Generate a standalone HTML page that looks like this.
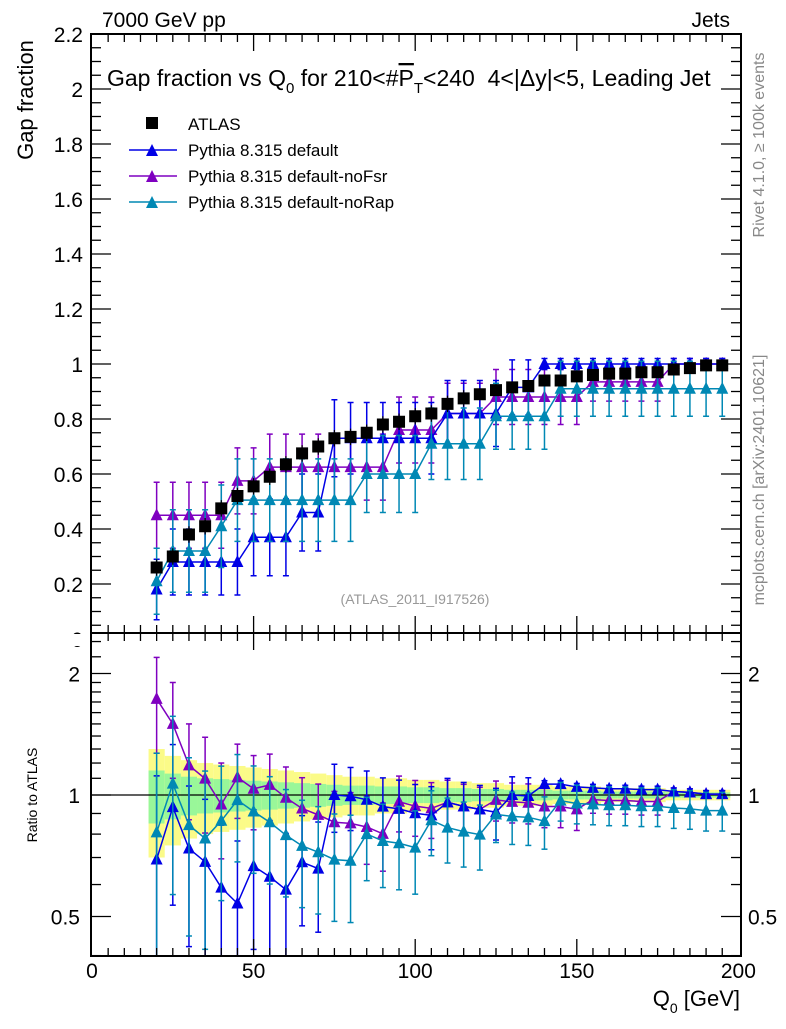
<!DOCTYPE html>
<html><head><meta charset="utf-8"><style>
body{margin:0;background:#fff;}
svg text{font-family:"Liberation Sans",sans-serif;}
</style></head><body>
<svg id="chart" width="786" height="1024" viewBox="0 0 786 1024" xmlns="http://www.w3.org/2000/svg">
<rect width="786" height="1024" fill="#fff"/>
<g id="bands"></g>
<g id="marks"></g>
<g id="axes"></g>
<text x="102" y="27" font-size="21">7000 GeV pp</text>
<text x="730" y="27" font-size="21" text-anchor="end">Jets</text>
<text x="107" y="86" font-size="23" xml:space="preserve">Gap fraction vs Q<tspan font-size="15" dy="7">0</tspan><tspan dy="-7"> for 210&lt;#</tspan><tspan text-decoration="overline">P</tspan><tspan font-size="15" dy="7">T</tspan><tspan dy="-7">&lt;240&#160;&#160;4&lt;|Δy|&lt;5, Leading Jet</tspan></text>
<text transform="translate(33,100) rotate(-90)" font-size="22" text-anchor="middle">Gap fraction</text>
<text transform="translate(37,795) rotate(-90)" font-size="14" text-anchor="middle">Ratio to ATLAS</text>
<text x="740" y="1006" font-size="22" text-anchor="end">Q<tspan font-size="14" dy="7">0</tspan><tspan dy="-7"> [GeV]</tspan></text>
<text transform="translate(764,145) rotate(-90)" font-size="16" fill="#888" text-anchor="middle">Rivet 4.1.0, ≥ 100k events</text>
<text transform="translate(764,480) rotate(-90)" font-size="16" fill="#888" text-anchor="middle">mcplots.cern.ch [arXiv:2401.10621]</text>
<text x="415" y="604" font-size="14" fill="#999" text-anchor="middle">(ATLAS_2011_I917526)</text>
<g>
<rect x="146" y="117" width="12" height="12" fill="#000"/>
<text x="188" y="130" font-size="17">ATLAS</text>
<line x1="129" y1="150" x2="177" y2="150" stroke="#0000e6" stroke-width="1.5"/><polygon points="146,156 158,156 152,144" fill="#0000e6"/>
<text x="188" y="156" font-size="17">Pythia 8.315 default</text>
<line x1="129" y1="176" x2="177" y2="176" stroke="#7f00c0" stroke-width="1.5"/><polygon points="146,182 158,182 152,170" fill="#7f00c0"/>
<text x="188" y="182" font-size="17">Pythia 8.315 default-noFsr</text>
<line x1="129" y1="202" x2="177" y2="202" stroke="#0088b4" stroke-width="1.5"/><polygon points="146,208 158,208 152,196" fill="#0088b4"/>
<text x="188" y="208" font-size="17">Pythia 8.315 default-noRap</text>
</g>
</svg>
<script>
const q0 = [20,25,30,35,40,45,50,55,60,65,70,75,80,85,90,95,100,105,110,115,120,125,130,135,140,145,150,155,160,165,170,175,180,185,190,195];
const atlas = [0.26,0.30,0.38,0.41,0.475,0.52,0.555,0.59,0.635,0.675,0.70,0.73,0.735,0.75,0.78,0.79,0.81,0.82,0.855,0.875,0.89,0.905,0.915,0.92,0.94,0.94,0.955,0.96,0.965,0.965,0.97,0.97,0.98,0.985,0.995,0.995];
const atlasErr = [0.03,0.03,0.03,0.03,0.03,0.03,0.03,0.03,0.03,0.03,0.03,0.03,0.03,0.03,0.03,0.03,0.03,0.03,0.03,0.03,0.02,0.02,0.02,0.02,0.02,0.02,0.02,0.02,0.02,0.02,0.02,0.02,0.02,0.02,0.02,0.02];
const pyDefault = [0.18,0.28,0.28,0.28,0.28,0.28,0.37,0.37,0.37,0.46,0.46,0.73,0.73,0.73,0.73,0.73,0.73,0.73,0.82,0.82,0.82,0.82,0.915,0.915,1.0,1.0,1.0,1.0,1.0,1.0,1.0,1.0,1.0,1.0,1.0,1.0];
const pyDefaultErr = [0.11,0.12,0.12,0.12,0.12,0.12,0.14,0.14,0.14,0.14,0.14,0.14,0.13,0.13,0.13,0.13,0.13,0.13,0.12,0.12,0.12,0.12,0.1,0.1,0.02,0.02,0.02,0.02,0.02,0.02,0.02,0.02,0.02,0.02,0.02,0.02];
const pyNoFsr = [0.45,0.45,0.45,0.45,0.45,0.575,0.575,0.625,0.625,0.625,0.625,0.625,0.625,0.625,0.625,0.76,0.76,0.76,0.82,0.82,0.82,0.88,0.88,0.88,0.88,0.88,0.88,0.935,0.935,0.935,0.935,0.935,1.0,1.0,1.0,1.0];
const pyNoFsrErr = [0.12,0.12,0.12,0.12,0.12,0.12,0.12,0.12,0.12,0.12,0.12,0.12,0.12,0.12,0.12,0.12,0.12,0.12,0.11,0.11,0.11,0.1,0.1,0.1,0.1,0.1,0.1,0.07,0.07,0.07,0.07,0.07,0.02,0.02,0.02,0.02];
const pyNoRap = [0.21,0.32,0.32,0.32,0.41,0.505,0.505,0.505,0.505,0.505,0.505,0.505,0.505,0.60,0.60,0.60,0.60,0.71,0.71,0.71,0.71,0.81,0.81,0.81,0.81,0.91,0.91,0.91,0.91,0.91,0.91,0.91,0.91,0.91,0.91,0.91];
const pyNoRapErr = [0.12,0.15,0.15,0.15,0.15,0.15,0.15,0.15,0.15,0.15,0.15,0.15,0.15,0.14,0.14,0.14,0.14,0.13,0.13,0.13,0.13,0.12,0.12,0.12,0.12,0.1,0.1,0.1,0.1,0.1,0.1,0.1,0.1,0.1,0.1,0.1];
const bandYellow = [0.30,0.25,0.22,0.20,0.19,0.18,0.17,0.16,0.15,0.14,0.13,0.12,0.11,0.11,0.10,0.10,0.09,0.09,0.08,0.08,0.07,0.07,0.06,0.06,0.06,0.05,0.05,0.05,0.04,0.04,0.04,0.04,0.03,0.03,0.03,0.03];
const bandGreen = [0.15,0.13,0.11,0.10,0.095,0.09,0.085,0.08,0.075,0.07,0.065,0.06,0.055,0.055,0.05,0.05,0.045,0.045,0.04,0.04,0.035,0.035,0.03,0.03,0.03,0.025,0.025,0.025,0.02,0.02,0.02,0.02,0.015,0.015,0.015,0.015];
const yTicks = [0,0.2,0.4,0.6,0.8,1,1.2,1.4,1.6,1.8,2,2.2];
const xTicks = [0,50,100,150,200];
const rTicks = [0.5,1,2];

const NS='http://www.w3.org/2000/svg';
const L=91, R=741, T=34, MB=633, B=956;
const X=v=>92+v*3.232;
const Y=v=>639-275*v;
const RY=v=>795-121.5*Math.log2(v);
const clampR=y=>Math.max(MB,Math.min(B,y));
const clampM=y=>Math.max(T,Math.min(MB,y));
function el(tag,attrs,parent){const e=document.createElementNS(NS,tag);for(const k in attrs)e.setAttribute(k,attrs[k]);parent.appendChild(e);return e;}
const bands=document.getElementById('bands'), marks=document.getElementById('marks'), axes=document.getElementById('axes');

q0.forEach((q,i)=>{
  const x0=X(q-2.5), w=X(q+2.5)-x0;
  const by=el('rect',{x:x0,y:RY(1+bandYellow[i]),width:w,height:RY(1-bandYellow[i])-RY(1+bandYellow[i]),fill:'#fbfb88'},bands);
  
  
  const bg=el('rect',{x:x0,y:RY(1+bandGreen[i]),width:w,height:RY(1-bandGreen[i])-RY(1+bandGreen[i]),fill:'#99f799'},bands);
  
  
});
const one=el('line',{x1:L,x2:R,y1:RY(1),y2:RY(1),stroke:'#000','stroke-width':1.2},bands);



function tri(x,y,c,parent){return el('polygon',{points:`${x-6},${y+5} ${x+6},${y+5} ${x},${y-7}`,fill:c},parent);}
function series(vals,errs,color,name){
  const g=el('g',{},marks);
  
  
  let d='';
  vals.forEach((v,i)=>{d+=(i?'L':'M')+X(q0[i])+','+Y(v);});
  el('path',{d:d,fill:'none',stroke:color,'stroke-width':1.5},g);
  vals.forEach((v,i)=>{
    const x=X(q0[i]);
    const y1=clampM(Y(v+errs[i])), y2=clampM(Y(v-errs[i]));
    el('line',{x1:x,x2:x,y1:y1,y2:y2,stroke:color,'stroke-width':1.5},g);
    el('line',{x1:x-3,x2:x+3,y1:y1,y2:y1,stroke:color,'stroke-width':1.5},g);
    el('line',{x1:x-3,x2:x+3,y1:y2,y2:y2,stroke:color,'stroke-width':1.5},g);
    const m=tri(x,Y(v),color,g);
    
    
  });
  d='';
  vals.forEach((v,i)=>{d+=(i?'L':'M')+X(q0[i])+','+RY(v/atlas[i]);});
  el('path',{d:d,fill:'none',stroke:color,'stroke-width':1.5},g);
  vals.forEach((v,i)=>{
    const x=X(q0[i]), r=v/atlas[i], e=errs[i]/atlas[i];
    const y1=clampR(RY(r+e)), y2=clampR(RY(Math.max(0.01,r-e)));
    el('line',{x1:x,x2:x,y1:y1,y2:y2,stroke:color,'stroke-width':1.5},g);
    el('line',{x1:x-3,x2:x+3,y1:y1,y2:y1,stroke:color,'stroke-width':1.5},g);
    el('line',{x1:x-3,x2:x+3,y1:y2,y2:y2,stroke:color,'stroke-width':1.5},g);
    const m=tri(x,RY(r),color,g);
    
    
  });
}
const ga=el('g',{},marks);


atlas.forEach((v,i)=>{
  const x=X(q0[i]);
  el('line',{x1:x,x2:x,y1:Y(v+atlasErr[i]),y2:Y(v-atlasErr[i]),stroke:'#000','stroke-width':1.2},ga);
  const s=el('rect',{x:x-6,y:Y(v)-6,width:12,height:12,fill:'#000'},ga);
  
  
});
series(pyNoFsr,pyNoFsrErr,'#7f00c0','pythia-nofsr');
series(pyDefault,pyDefaultErr,'#0000e6','pythia-default');
series(pyNoRap,pyNoRapErr,'#0088b4','pythia-norap');
marks.appendChild(ga);

const f1=el('rect',{x:L,y:T,width:R-L,height:MB-T,fill:'none',stroke:'#000','stroke-width':2},axes);


const f2=el('rect',{x:L,y:MB,width:R-L,height:B-MB,fill:'none',stroke:'#000','stroke-width':2},axes);


const tk={stroke:'#000','stroke-width':1.3};
for(let v=5;v<200;v+=5){
  const x=X(v), len=(v%50===0)?17:8;
  [T,MB,B].forEach(yb=>{
    if(yb!==T) el('line',Object.assign({x1:x,x2:x,y1:yb,y2:yb-len},tk),axes);
    if(yb!==B) el('line',Object.assign({x1:x,x2:x,y1:yb,y2:yb+len},tk),axes);
  });
}
xTicks.forEach(v=>{
  const t=el('text',{x:X(v),y:978,'font-size':21,'text-anchor':'middle'},axes);
  t.textContent=v;
  
  
});
for(let k=1;k<=44;k++){
  const v=k*0.05, y=Y(v); if(y<T||y>MB) continue;
  const len=(k%4===0)?20:10;
  el('line',Object.assign({x1:L,x2:L+len,y1:y,y2:y},tk),axes);
  el('line',Object.assign({x1:R,x2:R-len,y1:y,y2:y},tk),axes);
}
yTicks.forEach(v=>{
  const y=Y(v);
  const t=el('text',{x:83,y:y+8,'font-size':21,'text-anchor':'end'},axes);
  t.textContent=v;
  
  
});
const rMinor=[0.4,0.6,0.7,0.8,0.9,1.1,1.2,1.3,1.4,1.5,1.6,1.7,1.8,1.9,2.2,2.4];
rMinor.forEach(v=>{const y=RY(v); if(y<MB||y>B) return;
  el('line',Object.assign({x1:L,x2:L+10,y1:y,y2:y},tk),axes);
  el('line',Object.assign({x1:R,x2:R-10,y1:y,y2:y},tk),axes);});
const cov=el('rect',{x:50,y:634,width:40,height:12,fill:'#fff'},axes);


rTicks.forEach(v=>{const y=RY(v);
  el('line',Object.assign({x1:L,x2:L+20,y1:y,y2:y},tk),axes);
  el('line',Object.assign({x1:R,x2:R-20,y1:y,y2:y},tk),axes);
  const t=el('text',{x:80,y:y+8,'font-size':21,'text-anchor':'end'},axes);
  t.textContent=v;
  
  
  const t2=el('text',{x:748,y:y+8,'font-size':21},axes);
  t2.textContent=v;
  
  
});
</script>
</body></html>
